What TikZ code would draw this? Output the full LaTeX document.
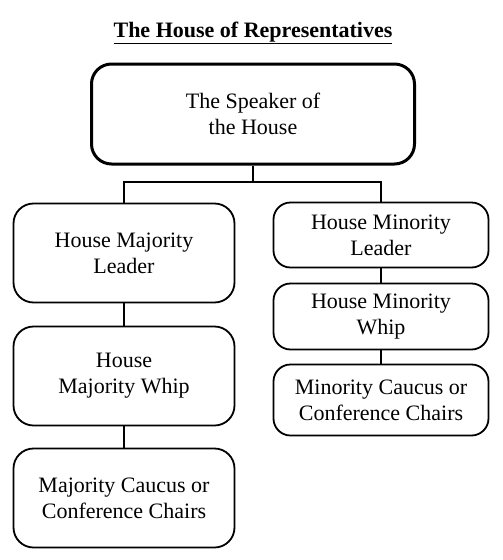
\documentclass[tikz,border=0pt]{standalone}
\usepackage{fontspec}
\setmainfont{Liberation Serif}
\begin{document}
\begin{tikzpicture}[x=1pt,y=-1pt,
  box/.style={draw, line width=1.8pt, rounded corners=20pt, align=center,
    inner sep=0pt, font=\fontsize{22}{26}\selectfont},
  link/.style={line width=1.6pt}]
\useasboundingbox (0,0) rectangle (503,560);
\node[font=\fontsize{22}{26}\selectfont\bfseries, anchor=base] (title) at (253,37) {\underline{The House of Representatives}};
\node[box, line width=3pt, minimum width=323pt, minimum height=100pt] (speaker) at (253,114) {The Speaker of\\the House};
\node[box, minimum width=221pt, minimum height=99pt] (mleader) at (124,253) {House Majority\\Leader};
\node[box, minimum width=221pt, minimum height=99pt] (mwhip) at (124,376) {House\\Majority Whip};
\node[box, minimum width=221pt, minimum height=99pt] (mcaucus) at (124,498) {Majority Caucus or\\Conference Chairs};
\node[box, rounded corners=17pt, minimum width=215pt, minimum height=65pt] (nleader) at (381,235) {House Minority\\Leader};
\node[box, rounded corners=17pt, minimum width=215pt, minimum height=66pt] (nwhip) at (381,316.5) {House Minority\\Whip};
\node[box, rounded corners=17pt, minimum width=215pt, minimum height=71pt] (ncaucus) at (381,400) {Minority Caucus or\\Conference Chairs};
\coordinate (j) at (253,182);
\draw[link] (speaker.south) -- (j);
\draw[link] (mleader.north) |- (j) -| (nleader.north);
\draw[link] (mleader) -- (mwhip);
\draw[link] (mwhip) -- (mcaucus);
\draw[link] (nleader) -- (nwhip);
\draw[link] (nwhip) -- (ncaucus);
\end{tikzpicture}
\end{document}
